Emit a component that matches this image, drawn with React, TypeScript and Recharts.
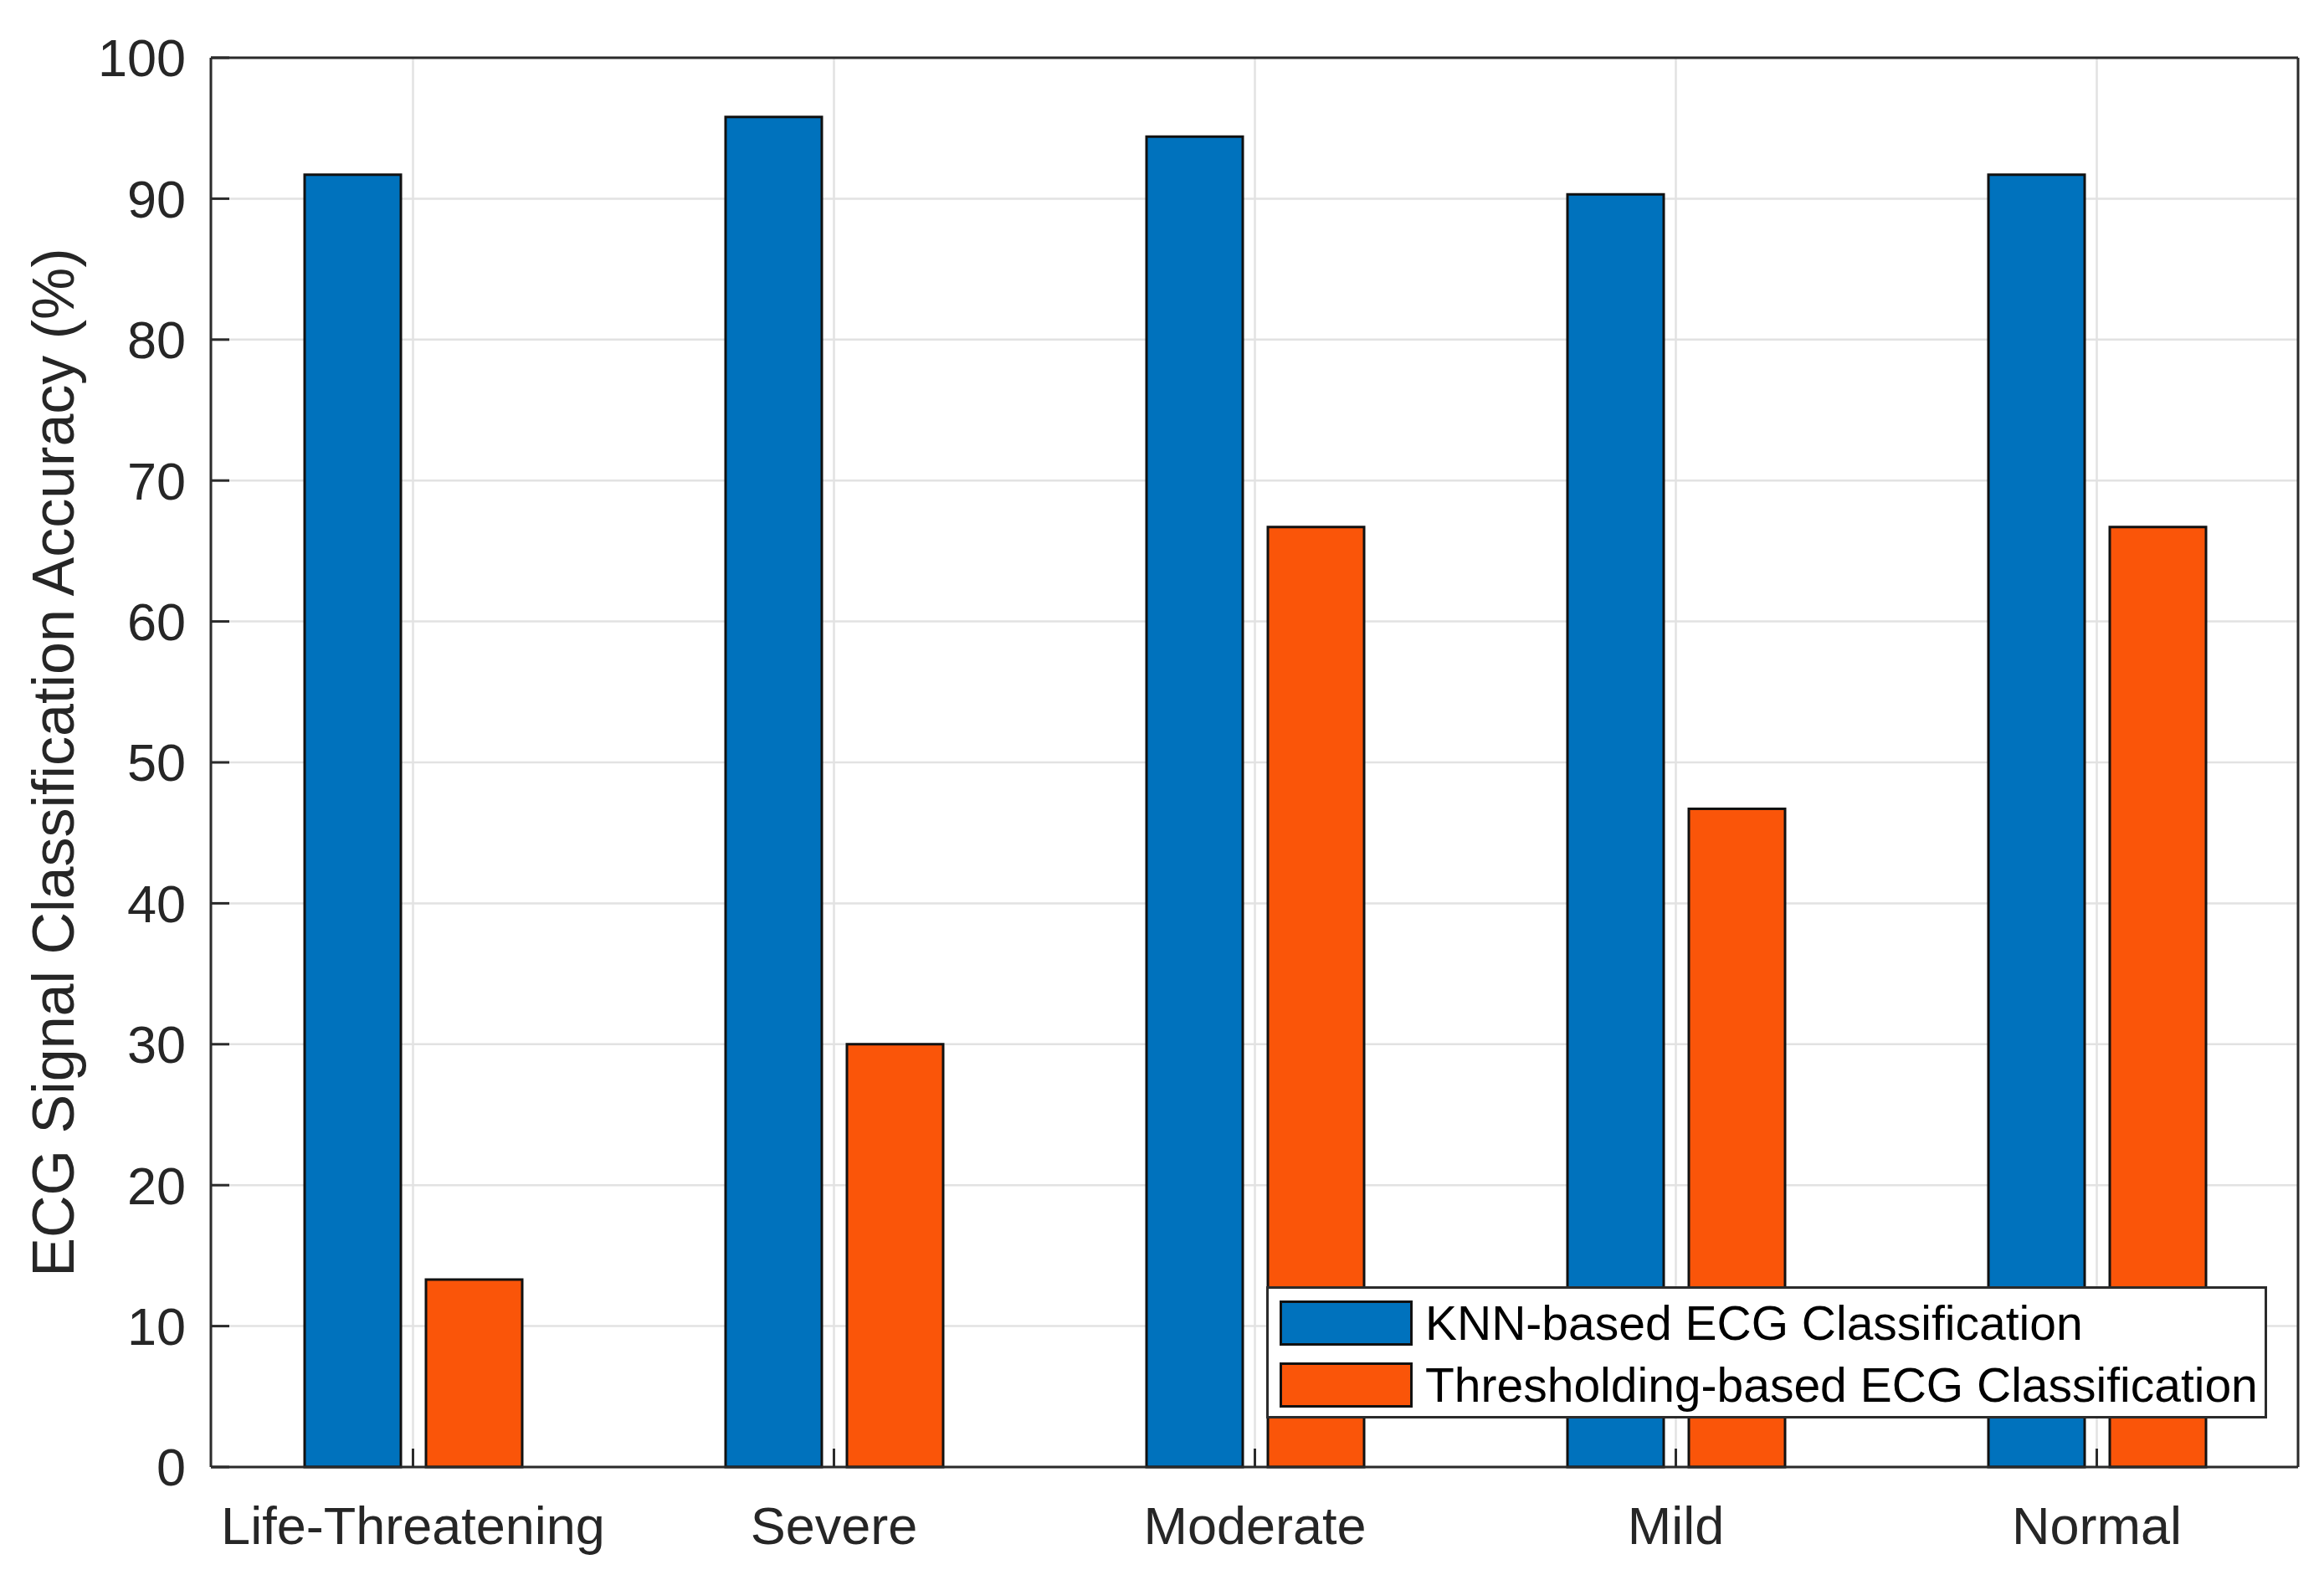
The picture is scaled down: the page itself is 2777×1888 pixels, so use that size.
import React from 'react';
import {
  BarChart,
  Bar,
  XAxis,
  YAxis,
  CartesianGrid,
  Legend
} from 'recharts';

const categories = ['Life-Threatening', 'Severe', 'Moderate', 'Mild', 'Normal'];
const knnAccuracy = [91.7, 95.8, 94.4, 90.3, 91.7];
const thresholdAccuracy = [13.3, 30.0, 66.7, 46.7, 66.7];
const yTicks = [0, 10, 20, 30, 40, 50, 60, 70, 80, 90, 100];

const seriesNames = {
  knn: 'KNN-based ECG Classification',
  thr: 'Thresholding-based ECG Classification'
};

const data = categories.map((category, i) => ({
  category,
  knn: knnAccuracy[i],
  thr: thresholdAccuracy[i]
}));

const AXIS_COLOR = '#2b2b2b';
const TEXT_COLOR = '#262626';

const LegendBox = ({ payload }: any) => (
  <div
    style={{
      boxSizing: 'border-box',
      width: 1196,
      height: 158,
      border: `3px solid ${AXIS_COLOR}`,
      background: '#fff',
      paddingTop: 4,
      paddingLeft: 13
    }}
  >
    {(payload || []).map((entry: any) => (
      <div
        key={entry.value}
        style={{ display: 'flex', alignItems: 'center', height: 74 }}
      >
        <div
          style={{
            boxSizing: 'border-box',
            width: 159,
            height: 54,
            background: entry.color,
            border: '3px solid #111'
          }}
        />
        <span style={{ marginLeft: 15, fontSize: 57, color: '#000', lineHeight: 1 }}>
          {entry.value}
        </span>
      </div>
    ))}
  </div>
);

const YLabel = ({ viewBox }: any) => {
  const cy = viewBox.y + viewBox.height / 2;
  return (
    <text
      x={88}
      y={cy}
      transform={`rotate(-90 88 ${cy})`}
      textAnchor="middle"
      fontSize={70}
      fill={TEXT_COLOR}
    >
      ECG Signal Classification Accuracy (%)
    </text>
  );
};

export default function App() {
  return (
    <div
      style={{
        position: 'absolute',
        left: 0,
        top: 0,
        width: 2777,
        height: 1888,
        background: '#fff',
        fontFamily: '"Liberation Sans", Arial, sans-serif'
      }}
    >
      <BarChart
        width={2777}
        height={1888}
        data={data}
        margin={{ top: 68, right: 30, bottom: 0, left: 0 }}
        barGap={30}
        barSize={115}
      >
        <CartesianGrid stroke="#e2e2e2" strokeWidth={2.5} />
        <XAxis
          dataKey="category"
          height={135}
          interval={0}
          padding={{ left: -10, right: -11 }}
          stroke={AXIS_COLOR}
          strokeWidth={3}
          tickSize={-22}
          tickMargin={69}
          tick={{ fontSize: 63, fill: TEXT_COLOR }}
        />
        <XAxis
          xAxisId="top"
          dataKey="category"
          orientation="top"
          height={1}
          interval={0}
          padding={{ left: -10, right: -11 }}
          stroke={AXIS_COLOR}
          strokeWidth={3}
          tickSize={-22}
          tick={false}
        />
        <YAxis
          width={252}
          domain={[0, 100]}
          ticks={yTicks}
          interval={0}
          stroke={AXIS_COLOR}
          strokeWidth={3}
          tickSize={-22}
          tickMargin={52}
          tick={{ fontSize: 63, fill: TEXT_COLOR }}
          label={<YLabel />}
        />
        <YAxis
          yAxisId="right"
          orientation="right"
          width={1}
          domain={[0, 100]}
          ticks={yTicks}
          interval={0}
          stroke={AXIS_COLOR}
          strokeWidth={3}
          tickSize={-22}
          tick={false}
        />
        <Legend
          layout="vertical"
          align="center"
          verticalAlign="middle"
          wrapperStyle={{ left: 1513, top: 1537, width: 1196 }}
          content={<LegendBox />}
        />
        <Bar
          dataKey="knn"
          name={seriesNames.knn}
          fill="#0072BD"
          stroke="#111"
          strokeWidth={3}
          isAnimationActive={false}
        />
        <Bar
          dataKey="thr"
          name={seriesNames.thr}
          fill="#FA5509"
          stroke="#111"
          strokeWidth={3}
          isAnimationActive={false}
        />
      </BarChart>
    </div>
  );
}
